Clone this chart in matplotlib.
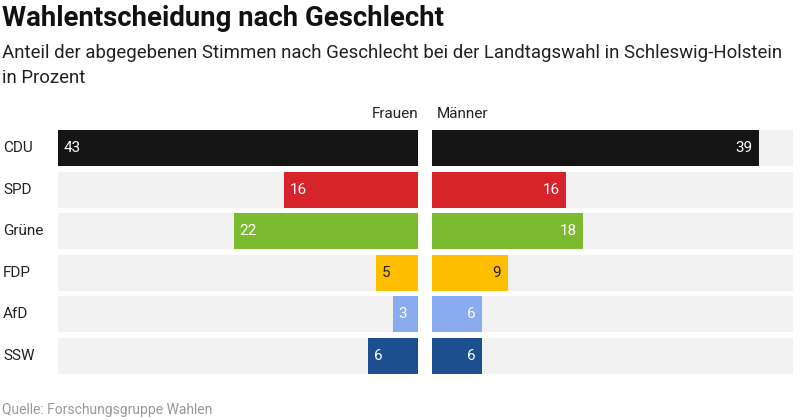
import matplotlib.pyplot as plt

plt.rcParams['font.family'] = ['Roboto', 'DejaVu Sans']

parteien = ['CDU', 'SPD', 'Grüne', 'FDP', 'AfD', 'SSW']
frauen = [43, 16, 22, 5, 3, 6]
maenner = [39, 16, 18, 9, 6, 6]
farben = ['#141414', '#d7232a', '#7cba2f', '#ffbf00', '#8aabf0', '#1b4f8f']
textfarben = ['white', 'white', 'white', '#222222', 'white', 'white']

xmax = 43
hoehe = 0.865

fig = plt.figure(figsize=(8, 4.2), dpi=100)
fig.patch.set_facecolor('white')

ax_l = fig.add_axes([58/800, 1 - 374/420, 360/800, 244/420])
ax_r = fig.add_axes([432/800, 1 - 374/420, 361/800, 244/420])

y = list(range(len(parteien)))

for ax, werte, links in [(ax_l, frauen, True), (ax_r, maenner, False)]:
    ax.barh(y, [xmax] * len(y), height=hoehe, color='#f2f2f2', linewidth=0)
    ax.barh(y, werte, height=hoehe, color=farben, linewidth=0)
    for i, w in enumerate(werte):
        if links:
            ax.text(w - 0.7, i, str(w), ha='left', va='center', fontsize=11, color=textfarben[i])
        else:
            ax.text(w - 0.8, i, str(w), ha='right', va='center', fontsize=11, color=textfarben[i])
    ax.set_ylim(len(y) - 1 + hoehe / 2, -hoehe / 2)
    ax.axis('off')

ax_l.set_xlim(xmax, 0)
ax_r.set_xlim(0, xmax)

for i, p in enumerate(parteien):
    fig.text(3/800, 1 - (148 + i * 41.6)/420, p, ha='left', va='center', fontsize=11, color='#222222')

fig.text(418/800, 1 - 114/420, 'Frauen', ha='right', va='center', fontsize=11, color='#222222')
fig.text(437/800, 1 - 114/420, 'Männer', ha='left', va='center', fontsize=11, color='#222222')

fig.text(2/800, 1 - 18/420, 'Wahlentscheidung nach Geschlecht', ha='left', va='center',
         fontsize=19.8, fontweight='bold', color='#111111')
fig.text(2/800, 1 - 53/420, 'Anteil der abgegebenen Stimmen nach Geschlecht bei der Landtagswahl in Schleswig-Holstein',
         ha='left', va='center', fontsize=13.4, color='#222222')
fig.text(2/800, 1 - 78/420, 'in Prozent', ha='left', va='center', fontsize=13.4, color='#222222')
fig.text(2/800, 1 - 410/420, 'Quelle: Forschungsgruppe Wahlen', ha='left', va='center',
         fontsize=10, color='#999999')

fig.savefig('out.png', dpi=100)
